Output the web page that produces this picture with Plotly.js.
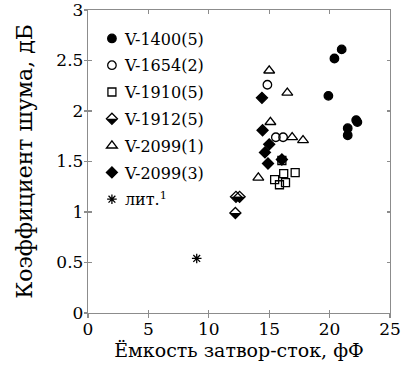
<!DOCTYPE html>
<html>
<head>
<meta charset="utf-8">
<script src="https://cdn.plot.ly/plotly-3.0.1.min.js"></script>
<style>html,body{margin:0;padding:0;background:#fff;}#chart{width:404px;height:377px;}</style>
</head>
<body>
<div id="chart"></div>
<script>
// ---- data ----
const seriesNames = ["V-1400(5)", "V-1654(2)", "V-1910(5)", "V-1912(5)", "V-2099(1)", "V-2099(3)", "лит.<sup>1</sup>"];
const v1400_x = [21.0, 20.4, 19.9, 21.5, 21.5, 22.2, 22.3];
const v1400_y = [2.61, 2.52, 2.15, 1.83, 1.76, 1.91, 1.89];
const v1654_x = [14.85, 15.55, 16.15];
const v1654_y = [2.26, 1.74, 1.74];
const v1910_x = [16.05, 16.2, 17.15, 15.45, 16.35, 15.85];
const v1910_y = [1.51, 1.38, 1.39, 1.32, 1.29, 1.27];
const v1912_x = [12.25, 12.55, 12.2];
const v1912_y = [1.15, 1.15, 0.99];
const v2099a_x = [15.0, 16.5, 15.1, 16.9, 17.8, 14.1];
const v2099a_y = [2.40, 2.18, 1.89, 1.74, 1.71, 1.34];
const v2099b_x = [14.4, 14.45, 15.0, 14.65, 14.9, 16.05];
const v2099b_y = [2.13, 1.81, 1.67, 1.59, 1.48, 1.52];
const lit_x = [9.0];
const lit_y = [0.54];
const xTicks = [0, 5, 10, 15, 20, 25];
const yTicks = [0, 0.5, 1, 1.5, 2, 2.5, 3];
const xTitle = "Ёмкость затвор-сток, фФ";
const yTitle = "Коэффициент шума, дБ";

const FONT = "DejaVu Serif";
const FS = 17;
const GRAY = "#8c8c8c";
const lineBlack = {color: "black", width: 1.3};

function tr(x, y, name, symbol, size, group) {
  return {type: "scatter", mode: "markers", x: x, y: y, name: name, legendgroup: group,
    marker: {symbol: symbol, size: size, color: "black", line: lineBlack},
    cliponaxis: false, hoverinfo: "skip"};
}
const traces = [
  tr(v1400_x, v1400_y, seriesNames[0], "circle", 8.5, "a"),
  tr(v1654_x, v1654_y, seriesNames[1], "circle-open", 8.5, "b"),
  tr(v1910_x, v1910_y, seriesNames[2], "square-open", 8, "c"),
  tr(v1912_x, v1912_y, seriesNames[3], "diamond-open", 8.5, "d"),
  tr(v2099a_x, v2099a_y, seriesNames[4], "triangle-up-open", 9.5, "e"),
  tr(v2099b_x, v2099b_y, seriesNames[5], "diamond", 8.5, "f"),
  tr(lit_x, lit_y, seriesNames[6], "asterisk-open", 8, "g")
];

// half-filled (lower half) diamonds for V-1912, anchored at the data points
const H = 5.5;
const halfPath = "M-" + H + ",0L" + H + ",0L0,-" + H + "Z";
const shapes = v1912_x.map((x, i) => ({
  type: "path", xref: "x", yref: "y", xsizemode: "pixel", ysizemode: "pixel",
  xanchor: x, yanchor: v1912_y[i], path: halfPath, fillcolor: "black",
  line: {width: 0}, layer: "below"
}));

const axisBase = {showgrid: false, zeroline: false, linecolor: GRAY, linewidth: 1.2,
  tickcolor: GRAY, tickwidth: 1.2, ticklen: 3.5, ticklabeloverflow: "allow",
  tickfont: {family: FONT, size: FS, color: "black"}};

const layout = {
  width: 404, height: 377,
  margin: {l: 88, r: 14, t: 10, b: 64},
  paper_bgcolor: "white", plot_bgcolor: "white",
  font: {family: FONT, size: FS, color: "black"},
  showlegend: true,
  legend: {x: 0.013, y: 0.962, xanchor: "left", yanchor: "top", bgcolor: "rgba(0,0,0,0)",
    font: {family: FONT, size: 16}, tracegroupgap: 3, itemwidth: 30},
  xaxis: Object.assign({}, axisBase, {range: [0, 25], tickvals: xTicks, ticks: "inside",
    showline: true, mirror: "ticks",
    title: {text: xTitle, font: {family: FONT, size: 19}, standoff: 6}}),
  yaxis: Object.assign({}, axisBase, {range: [0, 3], tickvals: yTicks, ticks: "inside",
    showline: true, mirror: "ticks",
    title: {text: yTitle, font: {family: FONT, size: 22}, standoff: 17}}),
  xaxis2: Object.assign({}, axisBase, {range: [0, 25], tickvals: xTicks, ticks: "outside",
    overlaying: "x", anchor: "y", side: "bottom", showticklabels: false, showline: false}),
  yaxis2: Object.assign({}, axisBase, {range: [0, 3], tickvals: yTicks, ticks: "outside",
    overlaying: "y", anchor: "x", side: "left", showticklabels: false, showline: false}),
  shapes: shapes
};
// dummy trace so the outer tick axes are drawn
traces.push({type: "scatter", mode: "markers", x: [0], y: [0], xaxis: "x2", yaxis: "y2",
  marker: {opacity: 0}, showlegend: false, hoverinfo: "skip"});

Plotly.newPlot("chart", traces, layout, {staticPlot: true, displayModeBar: false}).then(function (gd) {
  const ns = "http://www.w3.org/2000/svg";
  const items = gd.querySelectorAll(".legend .traces");
  items.forEach(function (item, i) {
    // bring the legend text closer to its marker
    const t = item.querySelector("text.legendtext");
    if (t) t.setAttribute("x", "33");
    // filled lower half of the V-1912 legend glyph
    if (i === 3) {
      const pt = item.querySelector(".legendpoints path.scatterpts");
      if (pt) {
        const p = document.createElementNS(ns, "path");
        p.setAttribute("d", "M-" + H + ",0L" + H + ",0L0," + H + "Z");
        p.setAttribute("fill", "black");
        p.setAttribute("transform", pt.getAttribute("transform") || "");
        pt.parentNode.insertBefore(p, pt);
      }
    }
  });
});
</script>
</body>
</html>
